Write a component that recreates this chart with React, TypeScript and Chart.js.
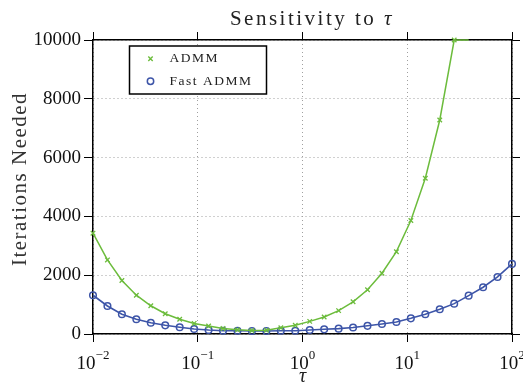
import React, { useEffect, useRef } from 'react';
import { Chart, registerables } from 'chart.js';

Chart.register(...registerables);

// ---- data ----
const tau = [
  0.01, 0.013738, 0.018874, 0.025929, 0.035622, 0.048939, 0.067234, 0.092367,
  0.1269, 0.17433, 0.2395, 0.32903, 0.45204, 0.62102, 0.85317, 1.1721, 1.6103,
  2.2122, 3.0392, 4.1753, 5.7362, 7.8805, 10.826, 14.874, 20.434, 28.072,
  38.566, 52.983, 72.79, 100,
];
const admmIters = [
  3430, 2520, 1820, 1320, 960, 690, 500, 360, 272, 190, 145, 120, 130, 210, 295,
  430, 580, 795, 1095, 1505, 2065, 2800, 3860, 5300, 7280, 10000, 10000, null,
  null, null,
];
const fastAdmmIters = [
  1318, 953, 670, 500, 385, 295, 228, 170, 136, 113, 110, 104, 104, 108, 113,
  136, 159, 182, 222, 278, 340, 408, 533, 670, 840, 1033, 1305, 1590, 1940, 2384,
];
const seriesLabels = ['ADMM', 'Fast ADMM'];
const xTickValues = [0.01, 0.1, 1, 10, 100];
const xTickExponents = ['\u22122', '\u22121', '0', '1', '2'];
const yTickValues = [0, 2000, 4000, 6000, 8000, 10000];
const titleText = 'Sensitivity to ';
const titleSymbol = '\u03c4';
const xTitle = '\u03c4';
const yTitle = 'Iterations Needed';

const FONT = '"Liberation Serif", "Times New Roman", serif';
const GREEN = '#6cbc3c';
const BLUE = '#3d55a8';
const GRID = '#a0a0a0';

const decorPlugin = {
  id: 'decor',
  afterDatasetsDraw(chart: any) {
    const { ctx, chartArea } = chart;
    const lx = chartArea.left + 36.5;
    const ly = chartArea.top + 6;
    const lw = 137;
    const lh = 48;
    ctx.save();
    ctx.fillStyle = '#fff';
    ctx.fillRect(lx, ly, lw, lh);
    ctx.strokeStyle = '#000';
    ctx.lineWidth = 1.5;
    ctx.strokeRect(lx, ly, lw, lh);
    const ds = chart.data.datasets;
    const rows = [ly + 12.7, ly + 35.3];
    const mx = lx + 21;
    // ADMM marker (rotated cross)
    ctx.strokeStyle = ds[0].borderColor;
    ctx.lineWidth = 1.4;
    ctx.beginPath();
    ctx.moveTo(mx - 2.2, rows[0] - 2.2);
    ctx.lineTo(mx + 2.2, rows[0] + 2.2);
    ctx.moveTo(mx - 2.2, rows[0] + 2.2);
    ctx.lineTo(mx + 2.2, rows[0] - 2.2);
    ctx.stroke();
    // Fast ADMM marker (circle)
    ctx.strokeStyle = ds[1].borderColor;
    ctx.lineWidth = 1.5;
    ctx.beginPath();
    ctx.arc(mx, rows[1], 3.2, 0, Math.PI * 2);
    ctx.stroke();
    ctx.fillStyle = '#222';
    ctx.font = `13.5px ${FONT}`;
    (ctx as any).letterSpacing = '1.5px';
    ctx.textBaseline = 'middle';
    ctx.textAlign = 'left';
    ctx.fillText(ds[0].label, lx + 40, rows[0]);
    ctx.fillText(ds[1].label, lx + 40, rows[1]);
    ctx.restore();
  },
  afterDraw(chart: any) {
    const { ctx, chartArea, scales } = chart;
    const xs = scales.x;
    ctx.save();
    ctx.fillStyle = '#111';
    ctx.textBaseline = 'alphabetic';
    ctx.textAlign = 'left';
    xTickValues.forEach((v, i) => {
      const px = xs.getPixelForValue(v);
      ctx.font = `19px ${FONT}`;
      const wb = ctx.measureText('10').width;
      ctx.font = `13px ${FONT}`;
      const we = ctx.measureText(xTickExponents[i]).width;
      const start = px - (wb + we) / 2;
      ctx.font = `19px ${FONT}`;
      ctx.fillText('10', start, chartArea.bottom + 34.5);
      ctx.font = `13px ${FONT}`;
      ctx.fillText(xTickExponents[i], start + wb, chartArea.bottom + 24.5);
    });
    // main title
    ctx.fillStyle = '#222';
    (ctx as any).letterSpacing = '2.5px';
    ctx.font = `21px ${FONT}`;
    const w1 = ctx.measureText(titleText).width;
    ctx.font = `italic 21px ${FONT}`;
    const w2 = ctx.measureText(titleSymbol).width;
    const cx = (chartArea.left + chartArea.right) / 2 + 9.5;
    const x0 = cx - (w1 + w2) / 2;
    const by = chartArea.top - 15;
    ctx.font = `21px ${FONT}`;
    ctx.fillText(titleText, x0, by);
    ctx.font = `italic 21px ${FONT}`;
    ctx.fillText(titleSymbol, x0 + w1, by);
    ctx.restore();
  },
};

export default function App() {
  const ref = useRef<HTMLCanvasElement | null>(null);

  useEffect(() => {
    if (!ref.current) return;
    const chart = new Chart(ref.current, {
      type: 'line',
      data: {
        datasets: [
          {
            label: seriesLabels[0],
            data: tau.map((t, i) => ({ x: t, y: admmIters[i] })) as any,
            borderColor: GREEN,
            backgroundColor: GREEN,
            borderWidth: 1.5,
            pointStyle: 'crossRot',
            pointRadius: (c: any) => (c.dataIndex >= 26 ? 0 : 3.2),
            pointBorderWidth: 1.3,
            pointBorderColor: GREEN,
            tension: 0,
            clip: 8,
          },
          {
            label: seriesLabels[1],
            data: tau.map((t, i) => ({ x: t, y: fastAdmmIters[i] })) as any,
            borderColor: BLUE,
            backgroundColor: 'rgba(0,0,0,0)',
            borderWidth: 1.6,
            pointStyle: 'circle',
            pointRadius: 3.3,
            pointBorderWidth: 1.5,
            pointBorderColor: BLUE,
            pointBackgroundColor: 'rgba(0,0,0,0)',
            tension: 0,
            clip: 8,
          },
        ],
      },
      options: {
        animation: false,
        responsive: false,
        events: [],
        layout: { padding: { top: 32, right: 3, left: 0, bottom: 0 } },
        plugins: {
          legend: { display: false },
          title: { display: false },
          tooltip: { enabled: false },
        },
        scales: {
          x: {
            type: 'logarithmic',
            position: 'bottom',
            min: 0.01,
            max: 100,
            afterBuildTicks: (s: any) => {
              s.ticks = xTickValues.map((v) => ({ value: v }));
            },
            afterFit: (s: any) => {
              s.height = 51;
              s.paddingLeft = 0;
              s.paddingRight = 0;
            },
            ticks: { display: false },
            grid: {
              color: GRID,
              lineWidth: 1,
              drawTicks: true,
              tickLength: 8,
              tickColor: '#000',
              tickWidth: 1,
            },
            border: { display: true, color: '#000', width: 1.5, dash: [1, 3] },
            title: {
              display: true,
              text: xTitle,
              color: '#222',
              font: { family: FONT, size: 20, style: 'italic', lineHeight: 1 },
              padding: { top: 0, bottom: -2 },
            },
          },
          x2: {
            type: 'logarithmic',
            position: 'top',
            min: 0.01,
            max: 100,
            afterBuildTicks: (s: any) => {
              s.ticks = xTickValues.map((v) => ({ value: v }));
            },
            afterFit: (s: any) => {
              s.height = 8;
              s.paddingLeft = 0;
              s.paddingRight = 0;
            },
            ticks: { display: false },
            grid: {
              drawOnChartArea: false,
              drawTicks: true,
              tickLength: 8,
              tickColor: '#000',
              tickWidth: 1,
            },
            border: { display: true, color: '#000', width: 1.5 },
          },
          y: {
            type: 'linear',
            position: 'left',
            min: 0,
            max: 10000,
            afterBuildTicks: (s: any) => {
              s.ticks = yTickValues.map((v) => ({ value: v }));
            },
            afterFit: (s: any) => {
              s.width = 93;
              s.paddingTop = 0;
              s.paddingBottom = 0;
              if (!s.__patched) {
                const orig = s.drawTitle.bind(s);
                s.drawTitle = (...args: any[]) => {
                  const c = s.ctx;
                  c.save();
                  c.letterSpacing = '1.5px';
                  c.translate(0, -8);
                  orig(...args);
                  c.restore();
                };
                s.__patched = true;
              }
            },
            ticks: {
              color: '#111',
              padding: 3,
              font: { family: FONT, size: 19 },
              callback: (v: any) => String(v),
            },
            grid: {
              color: GRID,
              lineWidth: 1,
              drawTicks: true,
              tickLength: 9,
              tickColor: '#000',
              tickWidth: 1,
            },
            border: { display: true, color: '#000', width: 1.5, dash: [1, 3] },
            title: {
              display: true,
              text: yTitle,
              color: '#333',
              font: { family: FONT, size: 21, lineHeight: 1 },
              padding: { top: 10.4, bottom: 0 },
            },
          },
          y2: {
            type: 'linear',
            position: 'right',
            min: 0,
            max: 10000,
            afterBuildTicks: (s: any) => {
              s.ticks = yTickValues.map((v) => ({ value: v }));
            },
            afterFit: (s: any) => {
              s.width = 8;
              s.paddingTop = 0;
              s.paddingBottom = 0;
            },
            ticks: { display: false },
            grid: {
              drawOnChartArea: false,
              drawTicks: true,
              tickLength: 8,
              tickColor: '#000',
              tickWidth: 1,
            },
            border: { display: true, color: '#000', width: 1.5 },
          },
        },
      } as any,
      plugins: [decorPlugin],
    });
    return () => chart.destroy();
  }, []);

  return (
    <div style={{ position: 'absolute', left: 0, top: 0, width: 523, height: 385, background: '#fff' }}>
      <canvas ref={ref} width={523} height={385} style={{ display: 'block', width: 523, height: 385 }} />
    </div>
  );
}
